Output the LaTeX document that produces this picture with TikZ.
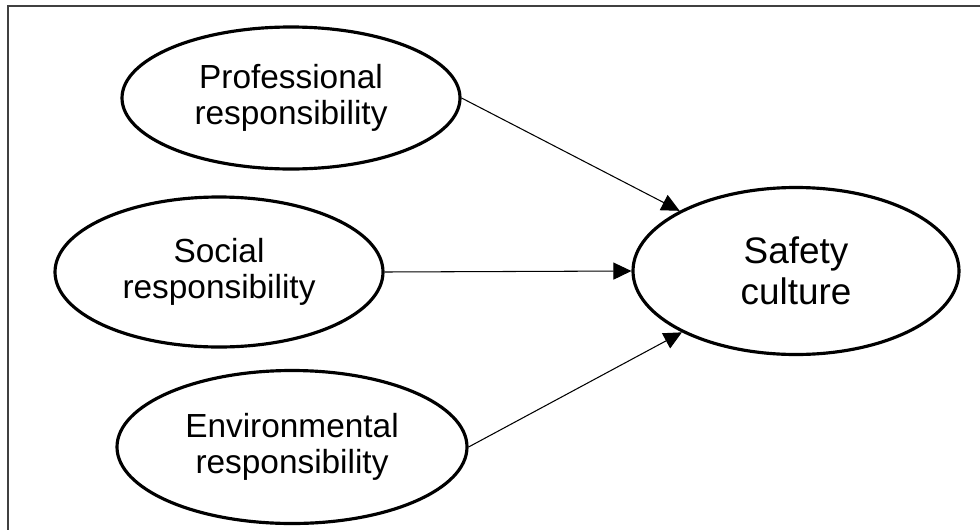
\documentclass[tikz,border=0pt]{standalone}
\usepackage{fontspec}
\setmainfont{Liberation Sans}
\usetikzlibrary{shapes.geometric,arrows.meta}

\begin{document}
\begin{tikzpicture}[>={Triangle[length=3.6mm,width=3.4mm]},
	factor/.style={draw,ellipse,line width=1.8pt,inner sep=0pt,align=center,font=\fontsize{19}{20.5}\selectfont},
	outcome/.style={factor,font=\fontsize{21}{23}\selectfont}]
			\useasboundingbox (0,0) rectangle (19.6,10.58);
			\begin{scope}
			\clip (0,0) rectangle (19.6,10.58);
			\draw[line width=1.2pt,black!75] (0.16,-1.0) rectangle (20.6,10.46);
			\end{scope}
			\node[factor,minimum width=6.76cm,minimum height=2.84cm] (prof)at(5.82,8.62) {Professional\\responsibility};
			\node[factor,minimum width=6.56cm,minimum height=3.0cm] (soc)at(4.38,5.14) {Social\\responsibility};
			\node[factor,minimum width=7.0cm,minimum height=3.06cm] (env)at(5.84,1.64) {Environmental\\responsibility};
			\node[outcome,minimum width=6.52cm,minimum height=3.34cm] (safety)at(15.92,5.16) {Safety\\culture};
			\draw[->,line width=0.6pt] (prof.east) -- (safety);
			\draw[->,line width=0.6pt] (soc.east) -- (safety.west);
			\draw[->,line width=0.6pt] (env.east) -- (safety);
		\end{tikzpicture}
\end{document}
